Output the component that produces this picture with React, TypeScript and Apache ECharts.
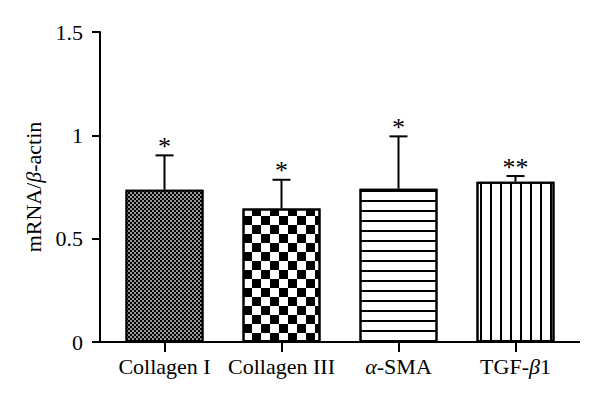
import React, { useEffect, useRef } from 'react';
import * as echarts from 'echarts';

const categories = ['Collagen I', 'Collagen III', 'α-SMA', 'TGF-β1'];
const means = [0.737, 0.646, 0.742, 0.776];
const errors = [0.166, 0.139, 0.253, 0.027];
const marks = ['*', '*', '*', '**'];
const yMin = 0;
const yMax = 1.5;
const yStep = 0.5;

const FONT = '"Liberation Serif", "Times New Roman", serif';

const barStyles = [
  {
    color: '#000',
    decal: { symbol: 'rect', symbolSize: 0.8, symbolKeepAspect: false, color: '#fff', backgroundColor: '#000', dashArrayX: [[2, 2], [0, 2, 2, 0]], dashArrayY: [2, 0] },
  },
  {
    color: '#fff',
    decal: { symbol: 'rect', symbolSize: 1, symbolKeepAspect: false, color: '#000', backgroundColor: '#fff', dashArrayX: [[9, 9], [0, 9, 9, 0]], dashArrayY: [9, 0] },
  },
  {
    color: '#fff',
    decal: { symbol: 'rect', symbolSize: 1, symbolKeepAspect: false, color: '#000', backgroundColor: '#fff', dashArrayX: [10, 0], dashArrayY: [2, 8] },
  },
  {
    color: '#fff',
    decal: { symbol: 'rect', symbolSize: 1, symbolKeepAspect: false, color: '#000', backgroundColor: '#fff', dashArrayX: [2, 8], dashArrayY: [10, 0] },
  },
];

export default function App() {
  const ref = useRef<HTMLDivElement>(null);
  useEffect(() => {
    if (!ref.current) return;
    const chart = echarts.init(ref.current, null, { renderer: 'svg' });
    const catRich = {
      n: { fontFamily: FONT, fontSize: 22, color: '#000' },
      i: { fontFamily: FONT, fontSize: 22, color: '#000', fontStyle: 'italic' },
    };
    chart.setOption({
      animation: false,
      backgroundColor: '#fff',
      grid: { left: 106, width: 468, top: 32, height: 310 },
      xAxis: {
        type: 'category',
        data: categories,
        axisLine: { show: false },
        axisTick: { show: true, alignWithLabel: true, length: 10, lineStyle: { color: '#000', width: 2 } },
        axisLabel: {
          interval: 0,
          hideOverlap: false,
          margin: 13,
          fontFamily: FONT,
          fontSize: 22,
          color: '#000',
          formatter: (v: string) => '{n|' + v.replace(/([αβ])/g, '}{i|$1}{n|') + '}',
          rich: catRich,
        },
      },
      yAxis: {
        type: 'value',
        min: yMin,
        max: yMax,
        interval: yStep,
        offset: 6,
        splitLine: { show: false },
        axisLine: { show: true, lineStyle: { color: '#000', width: 2 } },
        axisTick: { show: true, length: 8, lineStyle: { color: '#000', width: 2 } },
        axisLabel: { margin: 17, fontFamily: FONT, fontSize: 22, color: '#000' },
        name: '{n|mRNA/}{i|β}{n|-actin}',
        nameLocation: 'middle',
        nameGap: 53,
        nameRotate: 90,
        nameTextStyle: { fontFamily: FONT, fontSize: 22, color: '#000', rich: catRich },
      },
      graphic: [
        {
          type: 'line',
          shape: { x1: 100, y1: 342, x2: 580, y2: 342 },
          style: { stroke: '#000', lineWidth: 2 },
          z: 10,
        },
      ],
      series: [
        {
          type: 'bar',
          barWidth: 78,
          data: means.map((m, i) => ({
            value: m,
            itemStyle: { ...barStyles[i], borderColor: '#000', borderWidth: 2 },
          })),
        },
        {
          type: 'custom',
          z: 5,
          data: means.map((m, i) => [i, m, errors[i]]),
          encode: { x: 0, y: 1 },
          renderItem: (params: any, api: any) => {
            const i = api.value(0);
            const m = api.value(1);
            const e = api.value(2);
            const base = api.coord([i, m]);
            const top = api.coord([i, m + e]);
            const half = 9;
            return {
              type: 'group',
              children: [
                { type: 'line', shape: { x1: base[0], y1: base[1], x2: top[0], y2: top[1] }, style: { stroke: '#000', lineWidth: 2 } },
                { type: 'line', shape: { x1: top[0] - half, y1: top[1], x2: top[0] + half, y2: top[1] }, style: { stroke: '#000', lineWidth: 2 } },
                {
                  type: 'text',
                  x: top[0],
                  y: top[1] - 9,
                  style: { text: marks[params.dataIndex], fill: '#000', fontFamily: FONT, fontSize: 26, align: 'center', verticalAlign: 'middle' },
                },
              ],
            };
          },
        },
      ],
    });
    return () => chart.dispose();
  }, []);
  return <div ref={ref} style={{ position: 'fixed', left: 0, top: 0, width: 600, height: 408, background: '#fff' }} />;
}
